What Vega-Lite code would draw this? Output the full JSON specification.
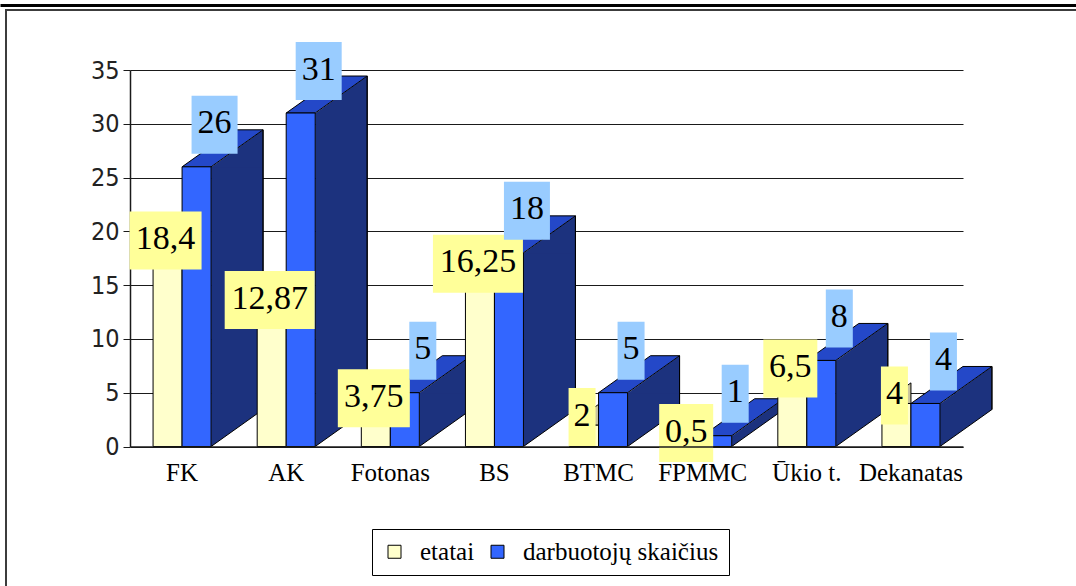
{
  "$schema": "https://vega.github.io/schema/vega-lite/v6.json",
  "autosize": {"type": "none"},
  "width": 1072,
  "height": 578,
  "padding": {"left": 6, "top": 10, "right": -2, "bottom": -2},
  "background": "white",
  "config": {
    "view": {"stroke": "#3c3c3c", "strokeWidth": 2},
    "locale": {"number": {"decimal": ",", "thousands": " ", "grouping": [3], "currency": ["", " €"]}}
  },
  "data": {
    "values": [
      {"cat": "FK", "s": "etatai", "v": 18.4},
      {"cat": "AK", "s": "etatai", "v": 12.87},
      {"cat": "Fotonas", "s": "etatai", "v": 3.75},
      {"cat": "BS", "s": "etatai", "v": 16.25},
      {"cat": "BTMC", "s": "etatai", "v": 2},
      {"cat": "FPMMC", "s": "etatai", "v": 0.5},
      {"cat": "Ūkio t.", "s": "etatai", "v": 6.5},
      {"cat": "Dekanatas", "s": "etatai", "v": 4},
      {"cat": "FK", "s": "darbuotojų skaičius", "v": 26},
      {"cat": "AK", "s": "darbuotojų skaičius", "v": 31},
      {"cat": "Fotonas", "s": "darbuotojų skaičius", "v": 5},
      {"cat": "BS", "s": "darbuotojų skaičius", "v": 18},
      {"cat": "BTMC", "s": "darbuotojų skaičius", "v": 5},
      {"cat": "FPMMC", "s": "darbuotojų skaičius", "v": 1},
      {"cat": "Ūkio t.", "s": "darbuotojų skaičius", "v": 8},
      {"cat": "Dekanatas", "s": "darbuotojų skaičius", "v": 4}
    ]
  },
  "layer": [
    {
      "encoding": {
        "x": {
          "field": "cat", "type": "nominal",
          "scale": {"domain": ["FK", "AK", "Fotonas", "BS", "BTMC", "FPMMC", "Ūkio t.", "Dekanatas"], "range": [124, 957], "paddingInner": 0, "paddingOuter": 0},
          "axis": {"orient": "bottom", "offset": -141.5, "title": null, "ticks": false, "domainColor": "#1a1a1a", "domainWidth": 1.5, "labelFont": "Liberation Serif", "labelFontSize": 25, "labelColor": "black", "labelPadding": 14, "labelAngle": 0, "zindex": 1, "grid": false}
        },
        "y": {
          "field": "v", "type": "quantitative",
          "scale": {"domain": [0, 35], "range": [436.5, 60], "nice": false},
          "axis": {"orient": "left", "offset": -124, "title": null, "values": [0, 5, 10, 15, 20, 25, 30, 35], "grid": true, "gridColor": "#1a1a1a", "gridWidth": 1, "domainColor": "#1a1a1a", "domainWidth": 1.5, "tickColor": "#1a1a1a", "tickSize": 7, "labelFont": "DejaVu Sans Condensed, Liberation Sans Narrow, sans-serif", "labelFontSize": 25, "labelColor": "#222222", "labelPadding": 4, "zindex": 0}
        }
      },
      "layer": [
        {
          "transform": [{"filter": "datum.s == 'darbuotojų skaičius'"}],
          "mark": {"type": "bar", "width": 52, "xOffset": 55, "fill": "#1c327e", "strokeWidth": 0}
        },
        {
          "transform": [{"filter": "datum.s == 'darbuotojų skaičius'"}],
          "mark": {"type": "point", "shape": "M29,0.5L81,-37V0.5Z", "size": 4, "filled": true, "fill": "#1c327e", "strokeWidth": 0, "opacity": 1}
        },
        {
          "transform": [{"filter": "datum.s == 'darbuotojų skaičius'"}],
          "mark": {"type": "point", "shape": "M0,0H29L81,-37H52Z", "size": 4, "filled": true, "fill": "#2448c8", "stroke": "black", "strokeWidth": 1, "opacity": 1}
        },
        {
          "transform": [{"filter": "datum.s == 'darbuotojų skaičius'"}],
          "mark": {"type": "point", "shape": "M29,0L81,-37H82.5V0.5H29Z", "size": 4, "filled": true, "fill": "white", "strokeWidth": 0, "opacity": 1},
          "encoding": {"y": {"datum": 0, "type": "quantitative"}}
        },
        {
          "transform": [{"filter": "datum.s == 'darbuotojų skaičius'"}],
          "mark": {"type": "bar", "width": 0.01, "xOffset": 81, "yOffset": -37, "fill": "black", "stroke": "black", "strokeWidth": 1}
        },
        {
          "transform": [{"filter": "datum.s == 'darbuotojų skaičius'"}],
          "mark": {"type": "point", "shape": "M29,0L81,-37", "size": 4, "filled": false, "stroke": "black", "strokeWidth": 1, "opacity": 1},
          "encoding": {"y": {"datum": 0, "type": "quantitative"}}
        },
        {
          "transform": [{"filter": "datum.s == 'etatai'"}],
          "mark": {"type": "bar", "width": 29, "xOffset": -14.5, "stroke": "black", "strokeWidth": 1},
          "encoding": {
            "color": {
              "field": "s", "type": "nominal",
              "scale": {"domain": ["etatai", "darbuotojų skaičius"], "range": ["#ffffcc", "#3366ff"]},
              "legend": {"orient": "none", "legendX": 366, "legendY": 519, "direction": "horizontal", "title": null, "strokeColor": "black", "fillColor": "white", "padding": 10, "symbolType": "square", "symbolSize": 169, "symbolStrokeColor": "black", "symbolStrokeWidth": 1, "symbolOpacity": 1, "labelFont": "Liberation Serif", "labelFontSize": 25, "labelColor": "black", "labelOffset": 13, "labelLimit": 400, "columnPadding": 10}
            }
          }
        },
        {
          "transform": [{"filter": "datum.s == 'etatai'"}],
          "mark": {"type": "point", "shape": "M-29,0H0V-20.6Z", "size": 4, "filled": true, "fill": "#c8c49e", "stroke": "black", "strokeWidth": 1, "opacity": 1}
        },
        {
          "transform": [{"filter": "datum.s == 'darbuotojų skaičius'"}],
          "mark": {"type": "bar", "width": 29, "xOffset": 14.5, "stroke": "black", "strokeWidth": 1},
          "encoding": {
            "color": {"field": "s", "type": "nominal", "scale": {"domain": ["etatai", "darbuotojų skaičius"], "range": ["#ffffcc", "#3366ff"]}}
          }
        },
        {
          "transform": [{"filter": "datum.s == 'etatai'"}],
          "mark": {"type": "point", "size": 4, "filled": true, "fill": "#ffff99", "strokeWidth": 0, "opacity": 1, "xOffset": -16.5, "yOffset": -8},
          "encoding": {
            "shape": {
              "condition": [
                {"test": "length(format(datum.v, '~g')) == 1", "value": "M-13.5,-29H13.5V29H-13.5Z"},
                {"test": "length(format(datum.v, '~g')) == 2", "value": "M-23,-29H23V29H-23Z"},
                {"test": "length(format(datum.v, '~g')) == 3", "value": "M-27,-29H27V29H-27Z"},
                {"test": "length(format(datum.v, '~g')) == 4", "value": "M-36,-29H36V29H-36Z"}
              ],
              "value": "M-45,-29H45V29H-45Z"
            }
          }
        },
        {
          "transform": [{"filter": "datum.s == 'darbuotojų skaičius'"}],
          "mark": {"type": "point", "size": 4, "filled": true, "fill": "#99ccff", "strokeWidth": 0, "opacity": 1, "xOffset": 32.5, "yOffset": -42},
          "encoding": {
            "shape": {
              "condition": [
                {"test": "length(format(datum.v, '~g')) == 1", "value": "M-13.5,-29H13.5V29H-13.5Z"},
                {"test": "length(format(datum.v, '~g')) == 2", "value": "M-23,-29H23V29H-23Z"},
                {"test": "length(format(datum.v, '~g')) == 3", "value": "M-27,-29H27V29H-27Z"},
                {"test": "length(format(datum.v, '~g')) == 4", "value": "M-36,-29H36V29H-36Z"}
              ],
              "value": "M-45,-29H45V29H-45Z"
            }
          }
        },
        {
          "transform": [{"filter": "datum.s == 'etatai'"}],
          "mark": {"type": "text", "font": "Liberation Serif", "fontSize": 34, "align": "center", "baseline": "alphabetic", "dx": -16.5, "dy": 0.6, "color": "black"},
          "encoding": {"text": {"field": "v", "type": "quantitative", "format": "~g"}}
        },
        {
          "transform": [{"filter": "datum.s == 'darbuotojų skaičius'"}],
          "mark": {"type": "text", "font": "Liberation Serif", "fontSize": 34, "align": "center", "baseline": "alphabetic", "dx": 32.5, "dy": -33.4, "color": "black"},
          "encoding": {"text": {"field": "v", "type": "quantitative", "format": "~g"}}
        }
      ]
    },
    {
      "mark": {"type": "rule", "opacity": 0},
      "encoding": {
        "x": {
          "datum": 0, "type": "quantitative",
          "scale": {"domain": [0, 1], "range": [-6, 1072]},
          "axis": {"orient": "top", "offset": 5, "title": null, "ticks": false, "labels": false, "grid": false, "domainColor": "black", "domainWidth": 3}
        }
      }
    }
  ],
  "resolve": {"scale": {"x": "independent"}, "axis": {"x": "independent"}}
}
